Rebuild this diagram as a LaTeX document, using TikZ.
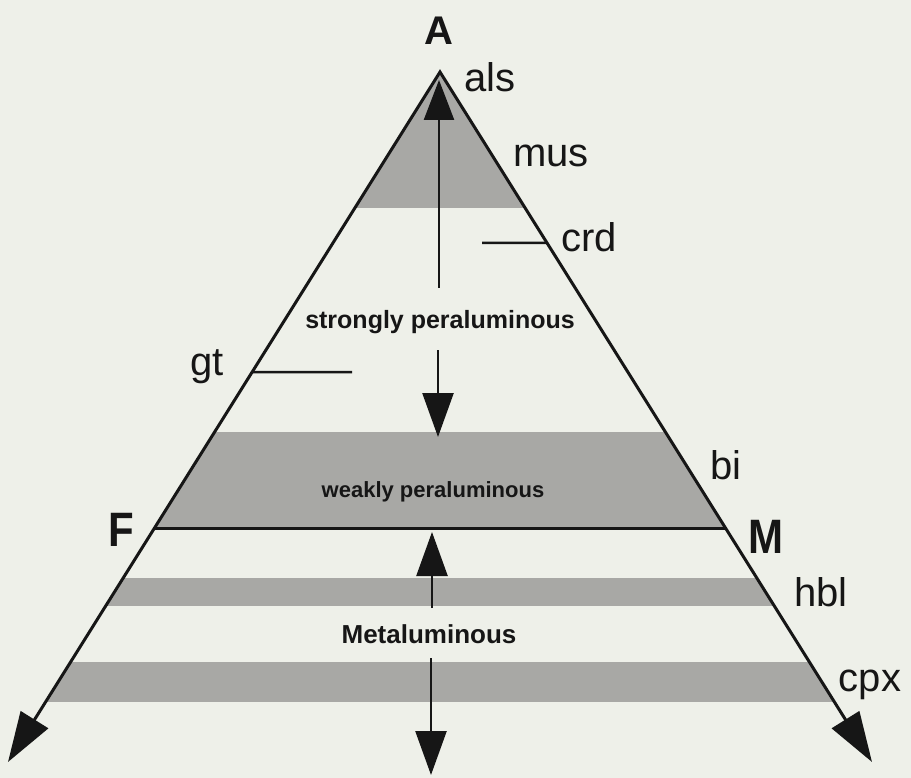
\documentclass[tikz,border=0pt]{standalone}
\usepackage{fontspec}
\setmainfont{Liberation Sans}
\usepackage{graphicx}
\usetikzlibrary{arrows.meta,calc}
\definecolor{bg}{RGB}{238,240,233}
\definecolor{band}{RGB}{168,168,165}
\definecolor{ink}{RGB}{22,22,22}
\begin{document}
\begin{tikzpicture}[x=1pt,y=-1pt,
  lab/.style={font=\fontsize{40}{40}\selectfont, text=ink, inner sep=0pt},
  big/.style={font=\fontsize{42}{42}\selectfont\bfseries, text=ink, inner sep=0pt},
  zone/.style={text=ink, inner sep=0pt},
  edge/.style={draw=ink, line width=3pt, line join=miter},
  tickline/.style={draw=ink, line width=2.5pt},
  varrow/.style={draw=ink, line width=2.5pt, -{Triangle[width=31pt,length=44pt]}},
  sidetip/.style={Triangle[width=32pt,length=50pt]}
]
\fill[bg] (0,0) rectangle (911,778);
\useasboundingbox (0,0) rectangle (911,778);
% corners
\coordinate (apex) at (440,72);
\coordinate (L) at (8,762);
\coordinate (R) at (872,762);
% gray bands
\begin{scope}
  \clip (apex) -- (L) -- (R) -- cycle;
  \fill[band] (0,60) rectangle (911,208);
  \fill[band] (0,432) rectangle (911,528);
  \fill[band] (0,578) rectangle (911,606);
  \fill[band] (0,662) rectangle (911,702);
\end{scope}
% triangle sides
\draw[edge, {Triangle[width=32pt,length=50pt]}-{Triangle[width=32pt,length=50pt]}] (L) -- (apex) -- (R);
% F-M line
\coordinate (Fp) at ($(apex)!0.6609!(L)$);
\coordinate (Mp) at ($(apex)!0.6609!(R)$);
\draw[edge] (Fp) -- (Mp);
% ticks
\coordinate (gtp) at ($(apex)!0.4348!(L)$);
\coordinate (gte) at (352,372);
\draw[tickline] (gtp) -- (gte);
\coordinate (crdp) at ($(apex)!0.2478!(R)$);
\coordinate (crde) at (482,243);
\draw[tickline] (crde) -- (crdp);
% vertical arrows
\coordinate (t1) at (439,288);
\coordinate (t1tip) at (439,80);
\draw[draw=ink, line width=2.5pt, -{Triangle[width=30pt,length=40pt]}] (t1) -- (t1tip);
\coordinate (s1) at (438,350);
\coordinate (s1tip) at (438,437);
\draw[varrow] (s1) -- (s1tip);
\coordinate (m1) at (432,608);
\coordinate (m1tip) at (432,532);
\draw[varrow] (m1) -- (m1tip);
\coordinate (m2) at (431,658);
\coordinate (m2tip) at (431,775);
\draw[varrow] (m2) -- (m2tip);
% labels
\node[big, font=\fontsize{40}{40}\selectfont\bfseries] (A) at (439,31) {A};
\node[big] (F) at (121,530) {\scalebox{1}[1.15]{F}};
\node[big] (M) at (766,537) {\scalebox{1}[1.15]{M}};
\node[lab] (als) at (490,77) {als};
\node[lab] (mus) at (551,156) {mus};
\node[lab] (crd) at (589,237) {crd};
\node[lab] (gt) at (207,367) {gt};
\node[lab] (bi) at (726,465) {bi};
\node[lab] (hbl) at (821,592) {hbl};
\node[lab] (cpx) at (870,685) {cpx};
\node[zone, font=\fontsize{25}{25}\selectfont\bfseries] (sp) at (440,322) {strongly peraluminous};
\node[zone, font=\fontsize{22}{22}\selectfont\bfseries] (wp) at (433,492) {weakly peraluminous};
\node[zone, font=\fontsize{26}{26}\selectfont\bfseries] (met) at (429,634) {Metaluminous};
\end{tikzpicture}
\end{document}
